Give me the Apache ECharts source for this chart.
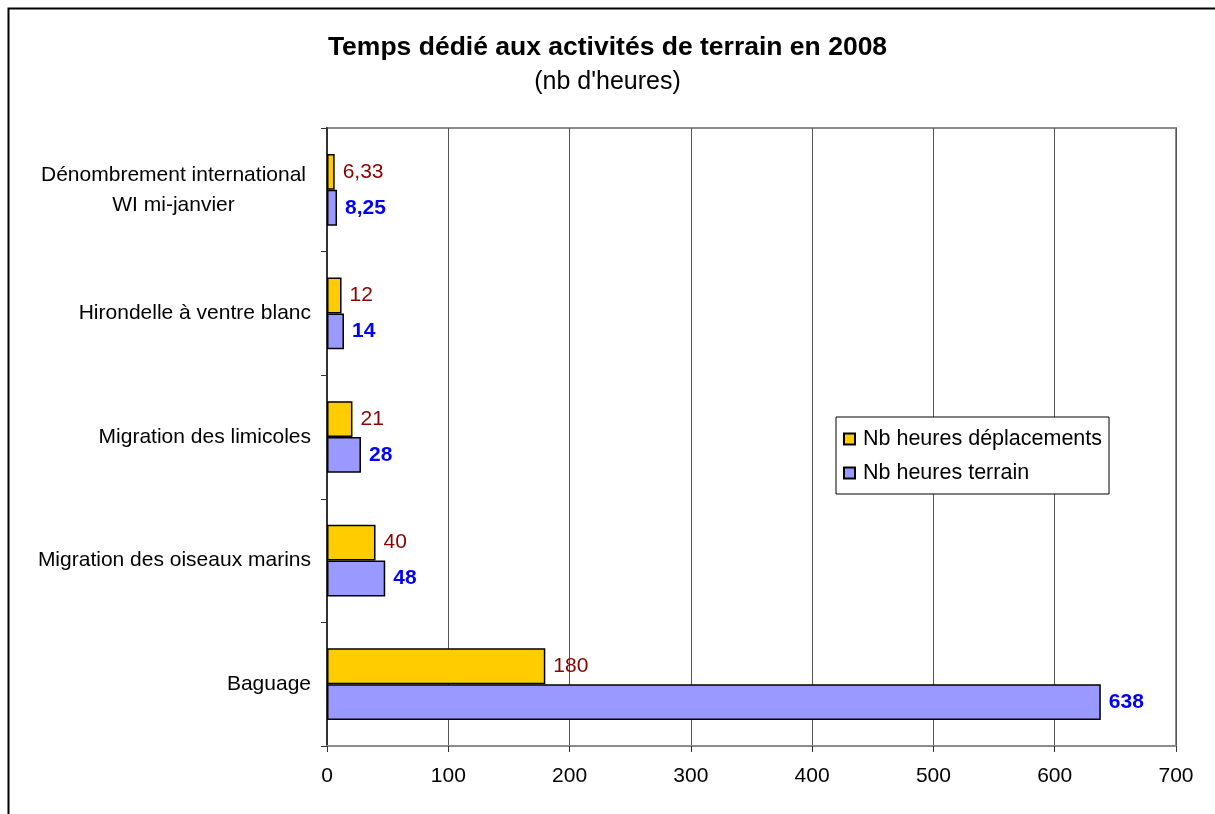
<!DOCTYPE html>
<html>
<head>
<meta charset="utf-8">
<script src="https://cdn.jsdelivr.net/npm/echarts@6/dist/echarts.min.js"></script>
<style>
  html, body { margin: 0; padding: 0; background: #fff; }
  #chart { width: 1215px; height: 814px; }
</style>
</head>
<body>
<div id="chart"></div>
<script>
// données
var categories = [
  'Dénombrement international\nWI mi-janvier',
  'Hirondelle à ventre blanc',
  'Migration des limicoles',
  'Migration des oiseaux marins',
  'Baguage'
];
var deplacements = [6.33, 12, 21, 40, 180];
var terrain = [8.25, 14, 28, 48, 638];
var xTicks = [0, 100, 200, 300, 400, 500, 600, 700];

var font = '"Liberation Sans", Arial, sans-serif';
var fs = 21;
var fr = function (v) { return String(v).replace('.', ','); };

var myChart = echarts.init(document.getElementById('chart'));
var option = {
  animation: false,
  backgroundColor: '#fff',
  textStyle: { fontFamily: font },
  title: {
    text: 'Temps dédié aux activités de terrain en 2008',
    subtext: '(nb d\'heures)',
    left: 'center',
    top: 29,
    itemGap: 9,
    textStyle: { fontFamily: font, fontSize: 26.5, fontWeight: 'bold', color: '#000' },
    subtextStyle: { fontFamily: font, fontSize: 25, color: '#000' }
  },
  graphic: [{
    type: 'rect',
    shape: { x: 8.5, y: 8.5, width: 1220, height: 900 },
    style: { fill: 'none', stroke: '#000', lineWidth: 2 },
    silent: true
  }],
  legend: {
    orient: 'vertical',
    left: 836,
    top: 417,
    padding: [11, 7, 10, 7],
    itemGap: 12,
    itemWidth: 11,
    itemHeight: 11,
    icon: 'rect',
    borderColor: '#000',
    borderWidth: 1,
    backgroundColor: '#fff',
    textStyle: { fontFamily: font, fontSize: 21.5, color: '#000', padding: [0, 0, 0, 3] },
    data: ['Nb heures déplacements', 'Nb heures terrain']
  },
  grid: {
    left: 327,
    right: 39,
    top: 128,
    bottom: 68,
    show: true,
    borderColor: '#8c8c8c',
    borderWidth: 2
  },
  xAxis: {
    type: 'value',
    min: 0,
    max: 700,
    interval: 100,
    axisLine: { show: true, lineStyle: { color: '#8c8c8c', width: 2 } },
    axisTick: { show: true, length: 6, lineStyle: { color: '#333' } },
    splitLine: { show: true, lineStyle: { color: '#555', width: 1 } },
    axisLabel: {
      margin: 20,
      fontFamily: font, fontSize: fs, color: '#000',
      formatter: function (v) { return xTicks.indexOf(v) >= 0 ? String(v) : ''; }
    }
  },
  yAxis: {
    type: 'category',
    inverse: true,
    data: categories,
    axisLine: { show: true, lineStyle: { color: '#333', width: 2 } },
    axisTick: { show: true, length: 6, lineStyle: { color: '#333' } },
    axisLabel: {
      margin: 16,
      fontFamily: font, fontSize: fs, color: '#000',
      lineHeight: 30,
      formatter: function (v) {
        if (v.indexOf('\n') < 0) return v;
        return v.split('\n').map(function (l) { return '{c|' + l + '}'; }).join('\n');
      },
      rich: { c: { align: 'center', fontFamily: font, fontSize: fs, color: '#000', lineHeight: 30, padding: [0, 5, 0, 0] } }
    }
  },
  series: [
    {
      name: 'Nb heures déplacements',
      type: 'bar',
      data: deplacements,
      barGap: '0%',
      barCategoryGap: '42%',
      itemStyle: { color: '#ffcc00', borderColor: '#000', borderWidth: 1.5 },
      label: {
        show: true, position: 'right', distance: 8,
        fontFamily: font, fontSize: fs, color: '#8b0000',
        formatter: function (p) { return fr(p.value); }
      }
    },
    {
      name: 'Nb heures terrain',
      type: 'bar',
      data: terrain,
      barGap: '0%',
      barCategoryGap: '42%',
      itemStyle: { color: '#9999ff', borderColor: '#000', borderWidth: 1.5 },
      label: {
        show: true, position: 'right', distance: 8,
        fontFamily: font, fontSize: fs, fontWeight: 'bold', color: '#0000ff',
        formatter: function (p) { return fr(p.value); }
      }
    }
  ]
};
myChart.setOption(option);
</script>
</body>
</html>
